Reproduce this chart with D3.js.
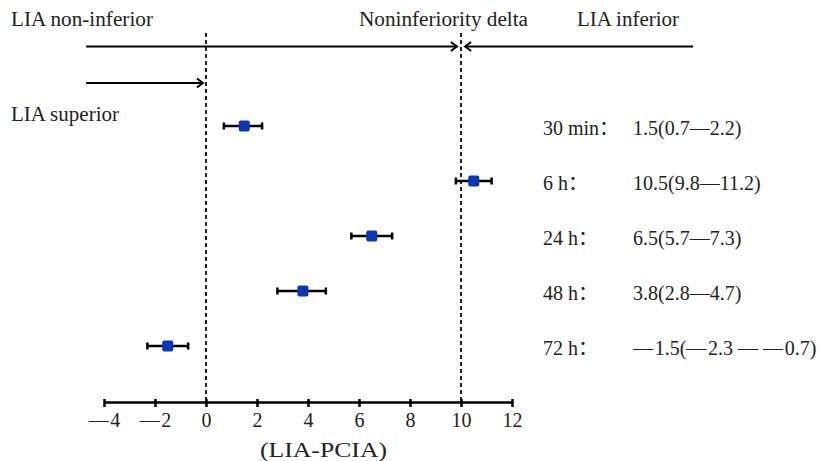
<!DOCTYPE html>
<html>
<head>
<meta charset="utf-8">
<script src="https://cdn.jsdelivr.net/npm/d3@7"></script>
<style>
  body { margin: 0; background: #fff; }
  svg text { font-family: 'Liberation Serif', 'Noto Sans CJK SC', serif; fill: #222; }
</style>
</head>
<body>
<div class="chart"></div>
<script>
// time points and difference (LIA - PCIA) with CI
var timeLabels = ["30 min：", "6 h：", "24 h：", "48 h：", "72 h："];
var estimates = [1.5, 10.5, 6.5, 3.8, -1.5];
var lowerCI = [0.7, 9.8, 5.7, 2.8, -2.3];
var upperCI = [2.2, 11.2, 7.3, 4.7, -0.7];
var ciTexts = ["1.5(0.7—2.2)", "10.5(9.8—11.2)", "6.5(5.7—7.3)", "3.8(2.8—4.7)", "—\u200A1.5(—\u200A2.3 — —\u200A0.7)"];
var xTicks = [-4, -2, 0, 2, 4, 6, 8, 10, 12];
var refLines = [0, 10];  // zero and noninferiority delta

var serif = "'Liberation Serif', 'Noto Sans CJK SC', serif";
var width = 823, height = 461;
var margin = {left: 104, right: 311, top: 126, bottom: 115};
var axisY = 402;

var x = d3.scaleLinear()
  .domain([-4, 12])
  .range([margin.left, width - margin.right]);

var y = d3.scalePoint()
  .domain(timeLabels)
  .range([margin.top, height - margin.bottom]);

var svg = d3.select(".chart").append("svg")
  .attr("width", width)
  .attr("height", height)
  .attr("font-family", serif);

var defs = svg.append("defs");
defs.append("marker")
  .attr("id", "arrow")
  .attr("viewBox", "-8 -6 10 12")
  .attr("refX", 0).attr("refY", 0)
  .attr("markerWidth", 10).attr("markerHeight", 12)
  .attr("markerUnits", "userSpaceOnUse")
  .attr("orient", "auto")
  .append("path")
  .attr("d", "M-6,-4.5 L0,0 L-6,4.5")
  .attr("fill", "none")
  .attr("stroke", "#000")
  .attr("stroke-width", 2);

function label(xp, yp, len, str) {
  return svg.append("text")
    .attr("x", xp).attr("y", yp)
    .attr("font-family", serif)
    .attr("font-size", 20)
    .attr("textLength", len)
    .attr("lengthAdjust", "spacingAndGlyphs")
    .text(str);
}

// header labels
label(11, 26, 142, "LIA non-inferior");
label(359, 26, 169, "Noninferiority delta");
label(577, 26, 102, "LIA inferior");
label(11, 121, 108, "LIA superior");

// arrows, in data units
var arrows = [
  {y: 46.5, from: -4.7, to: 9.84},
  {y: 46.5, from: 19.1, to: 10.16},
  {y: 83, from: -4.7, to: -0.12}
];
svg.append("g").selectAll("line")
  .data(arrows)
  .enter().append("line")
  .attr("x1", d => x(d.from))
  .attr("x2", d => x(d.to))
  .attr("y1", d => d.y)
  .attr("y2", d => d.y)
  .attr("stroke", "#000")
  .attr("stroke-width", 2)
  .attr("marker-end", "url(#arrow)");

// dashed reference lines
svg.append("g").selectAll("line")
  .data(refLines)
  .enter().append("line")
  .attr("x1", d => x(d)).attr("x2", d => x(d))
  .attr("y1", 33).attr("y2", axisY)
  .attr("stroke", "#222")
  .attr("stroke-width", 2)
  .attr("stroke-dasharray", "4,3");

// x axis
var xAxis = d3.axisBottom(x)
  .tickValues(xTicks)
  .tickSizeOuter(0)
  .tickFormat(d => d < 0 ? "—\u200A" + Math.abs(d) : d);

var gx = svg.append("g")
  .attr("transform", `translate(0,${axisY})`)
  .call(xAxis)
  .attr("font-family", serif)
  .attr("font-size", 20);
gx.select(".domain").attr("stroke", "#000").attr("stroke-width", 2.5);
gx.selectAll(".tick line").attr("y1", -3).attr("y2", 5)
  .attr("stroke", "#000").attr("stroke-width", 2.5);
gx.selectAll(".tick text")
  .attr("y", 11)
  .attr("fill", "#333");

label(260, 457, 127, "(LIA-PCIA)");

// error bars
var rows = timeLabels.map((t, i) => ({
  label: t, est: estimates[i], lo: lowerCI[i], hi: upperCI[i], txt: ciTexts[i]
}));

var bars = svg.append("g").selectAll("g")
  .data(rows)
  .enter().append("g")
  .attr("transform", d => `translate(0,${y(d.label)})`);

bars.append("line")
  .attr("x1", d => x(d.lo)).attr("x2", d => x(d.hi))
  .attr("stroke", "#000").attr("stroke-width", 2.5);
bars.append("line")
  .attr("x1", d => x(d.lo)).attr("x2", d => x(d.lo))
  .attr("y1", -3.5).attr("y2", 3.5)
  .attr("stroke", "#000").attr("stroke-width", 2.5);
bars.append("line")
  .attr("x1", d => x(d.hi)).attr("x2", d => x(d.hi))
  .attr("y1", -3.5).attr("y2", 3.5)
  .attr("stroke", "#000").attr("stroke-width", 2.5);
bars.append("rect")
  .attr("x", d => x(d.est) - 5.5)
  .attr("y", -5.5)
  .attr("width", 11).attr("height", 11)
  .attr("rx", 2)
  .attr("fill", "#0b37b6");

// right-hand text
bars.append("text")
  .attr("x", 543).attr("y", 9)
  .attr("font-family", serif)
  .attr("font-size", 20)
  .text(d => d.label);
bars.append("text")
  .attr("x", 633).attr("y", 9)
  .attr("font-family", serif)
  .attr("font-size", 20)
  .text(d => d.txt);
</script>
</body>
</html>
